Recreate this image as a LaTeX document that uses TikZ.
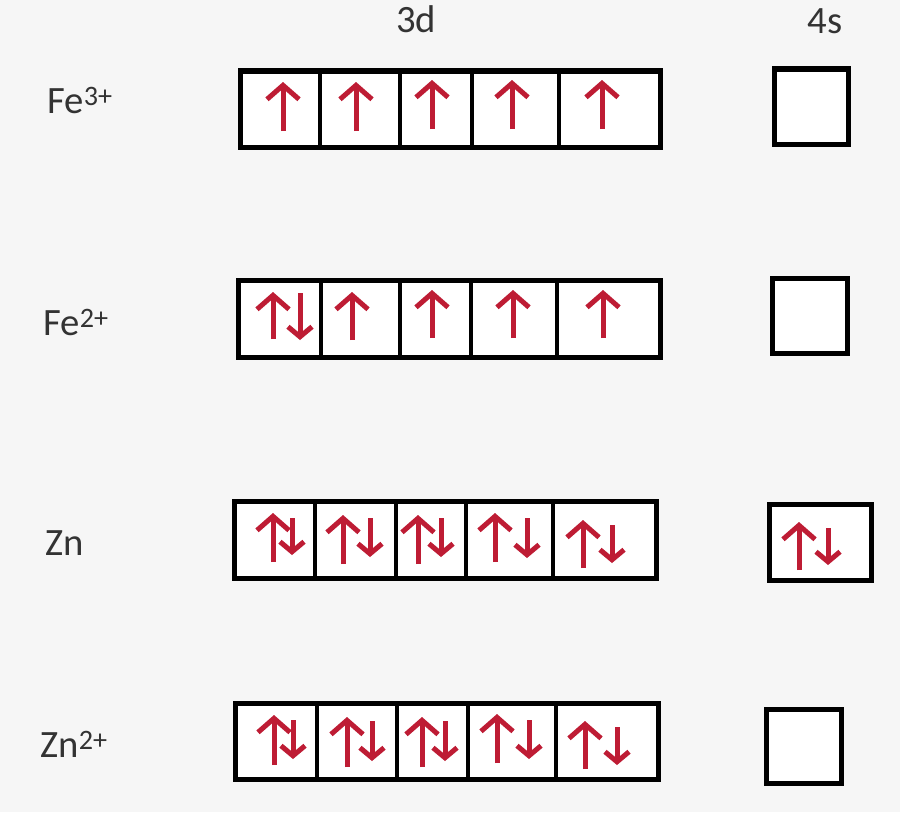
\documentclass[tikz,border=0pt]{standalone}
\usepackage{fontspec}
\setmainfont{Carlito}
\usetikzlibrary{arrows.meta}
\definecolor{paper}{RGB}{246,246,246}
\definecolor{spin}{RGB}{190,28,52}
\newcommand{\chg}[1]{\raisebox{2.2pt}{\fontsize{8}{8}\selectfont #1}}
\tikzset{
  orb/.style={line width=0.05cm, fill=white},
  wall/.style={line width=0.045cm},
  up/.style={spin, line width=0.05cm, -{Straight Barb[length=1.4mm,width=3.2mm]}},
  dn/.style={spin, line width=0.05cm, -{Straight Barb[length=1mm,width=2.4mm]}},
  lbl/.style={font=\fontsize{11}{13}\selectfont, text=black!80}
}

\begin{document}
\begin{tikzpicture}[x=0.01cm,y=-0.01cm]
\fill[paper] (0,0) rectangle (900,812);
\useasboundingbox (0,0) rectangle (900,812);

\node[lbl, anchor=base] (d3) at (416,32) {3d};
\node[lbl, anchor=base] (s4) at (825,33) {4s};

\node[lbl, anchor=base west] (fe3) at (35,113) {Fe\chg{3+}};
\draw[orb] (240,71) rectangle (660,147);
\draw[wall] (320,71) -- (320,147);
\draw[wall] (400,71) -- (400,147);
\draw[wall] (472,71) -- (472,147);
\draw[wall] (559,71) -- (559,147);
\draw[orb] (774,69) rectangle (848,144);
\draw[up] (283,131) -- (283,82);
\draw[up] (356,131) -- (356,82);
\draw[up] (432,129) -- (432,80);
\draw[up] (512,129) -- (512,80);
\draw[up] (602,129) -- (602,80);

\node[lbl, anchor=base west] (fe2) at (31,335) {Fe\chg{2+}};
\draw[orb] (238,280) rectangle (660,357);
\draw[wall] (321,280) -- (321,357);
\draw[wall] (400,280) -- (400,357);
\draw[wall] (471,280) -- (471,357);
\draw[wall] (557,280) -- (557,357);
\draw[orb] (772,278) rectangle (847,353);
\draw[up] (273,339) -- (273,292);
\draw[dn] (300,293) -- (300,340);
\draw[up] (352,340) -- (352,292);
\draw[up] (432,338) -- (432,290);
\draw[up] (513,338) -- (513,290);
\draw[up] (603,338) -- (603,290);

\node[lbl, anchor=base west] (zn) at (33,555) {Zn};
\draw[orb] (234,501) rectangle (656,578);
\draw[wall] (315,501) -- (315,578);
\draw[wall] (396,501) -- (396,578);
\draw[wall] (466,501) -- (466,578);
\draw[wall] (553,501) -- (553,578);
\draw[orb] (769,504) rectangle (871,580);
\draw[up] (273,562) -- (273,513);
\draw[dn] (292,518) -- (292,555);
\draw[up] (343,564) -- (343,515);
\draw[dn] (370,518) -- (370,557);
\draw[up] (418,564) -- (418,515);
\draw[dn] (441,518) -- (441,557);
\draw[up] (495,562) -- (495,513);
\draw[dn] (527,518) -- (527,558);
\draw[up] (583,568) -- (583,520);
\draw[dn] (612,525) -- (612,563);
\draw[up] (799,570) -- (799,522);
\draw[dn] (828,528) -- (828,565);

\node[lbl, anchor=base west] (zn2) at (28,757) {Zn\chg{2+}};
\draw[orb] (235,703) rectangle (658,779);
\draw[wall] (317,703) -- (317,779);
\draw[wall] (397,703) -- (397,779);
\draw[wall] (468,703) -- (468,779);
\draw[wall] (556,703) -- (556,779);
\draw[orb] (766,709) rectangle (841,783);
\draw[up] (274,765) -- (274,715);
\draw[dn] (293,720) -- (293,759);
\draw[up] (347,767) -- (347,717);
\draw[dn] (372,721) -- (372,761);
\draw[up] (422,767) -- (422,717);
\draw[dn] (445,721) -- (445,761);
\draw[up] (497,763) -- (497,714);
\draw[dn] (529,720) -- (529,759);
\draw[up] (585,769) -- (585,721);
\draw[dn] (617,727) -- (617,765);
\end{tikzpicture}
\end{document}
